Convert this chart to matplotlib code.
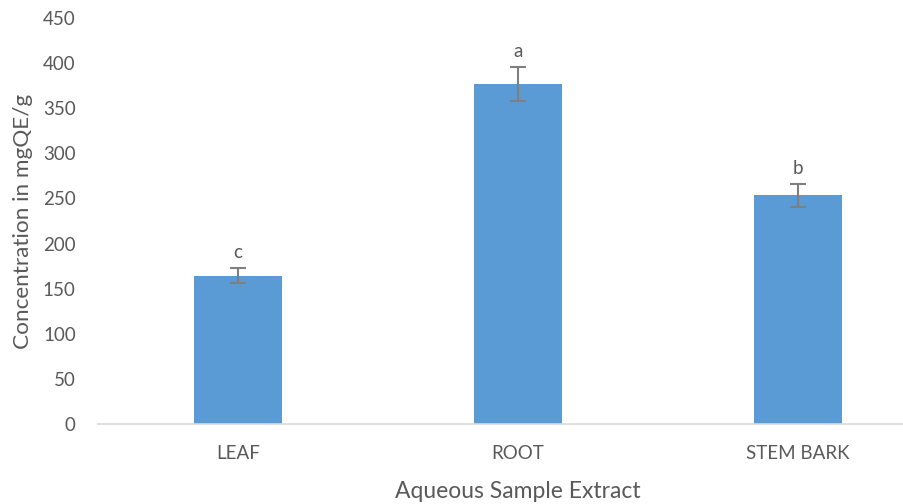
import matplotlib
matplotlib.use("Agg")
import matplotlib.pyplot as plt
import numpy as np

categories = ["LEAF", "ROOT", "STEM BARK"]
values = [164.4, 377.0, 253.5]
errors = [8.5, 18.7, 12.5]
letters = ["c", "a", "b"]
y_ticks = [0, 50, 100, 150, 200, 250, 300, 350, 400, 450]

plt.rcParams["font.family"] = ["Lato", "DejaVu Sans"]
text_color = "#595959"

fig = plt.figure(figsize=(9.04, 5.04), dpi=100)
ax = fig.add_axes([98 / 904, 80 / 504, 840 / 904, 406 / 504])

x = np.arange(len(categories))
ax.bar(x, values, width=0.314, color="#5B9BD5", zorder=2)
ax.errorbar(x, values, yerr=errors, fmt="none", ecolor="#7F7F7F",
            elinewidth=1.5, capsize=5.5, capthick=1.5, zorder=3)

for xi, v, e, lab in zip(x, values, errors, letters):
    ax.annotate(lab, (xi, v + e), xytext=(0, 5), textcoords="offset points",
                ha="center", va="bottom", fontsize=13.5, color=text_color)

ax.set_xlim(-0.5, len(categories) - 0.5)
ax.set_ylim(0, 450)
ax.set_yticks(y_ticks)
ax.set_xticks(x)
ax.set_xticklabels(categories)
ax.tick_params(axis="both", length=0, labelsize=13.5, colors=text_color)
ax.tick_params(axis="y", pad=16)
ax.tick_params(axis="x", pad=15)

for side in ["top", "right", "left"]:
    ax.spines[side].set_visible(False)
ax.spines["bottom"].set_color("#D9D9D9")
ax.spines["bottom"].set_linewidth(1.2)

ax.set_ylabel("Concentration in mgQE/g", fontsize=16.2, color=text_color, labelpad=7)
ax.set_xlabel("Aqueous Sample Extract", fontsize=16.5, color=text_color, labelpad=14)

fig.savefig("out.png", dpi=100)
